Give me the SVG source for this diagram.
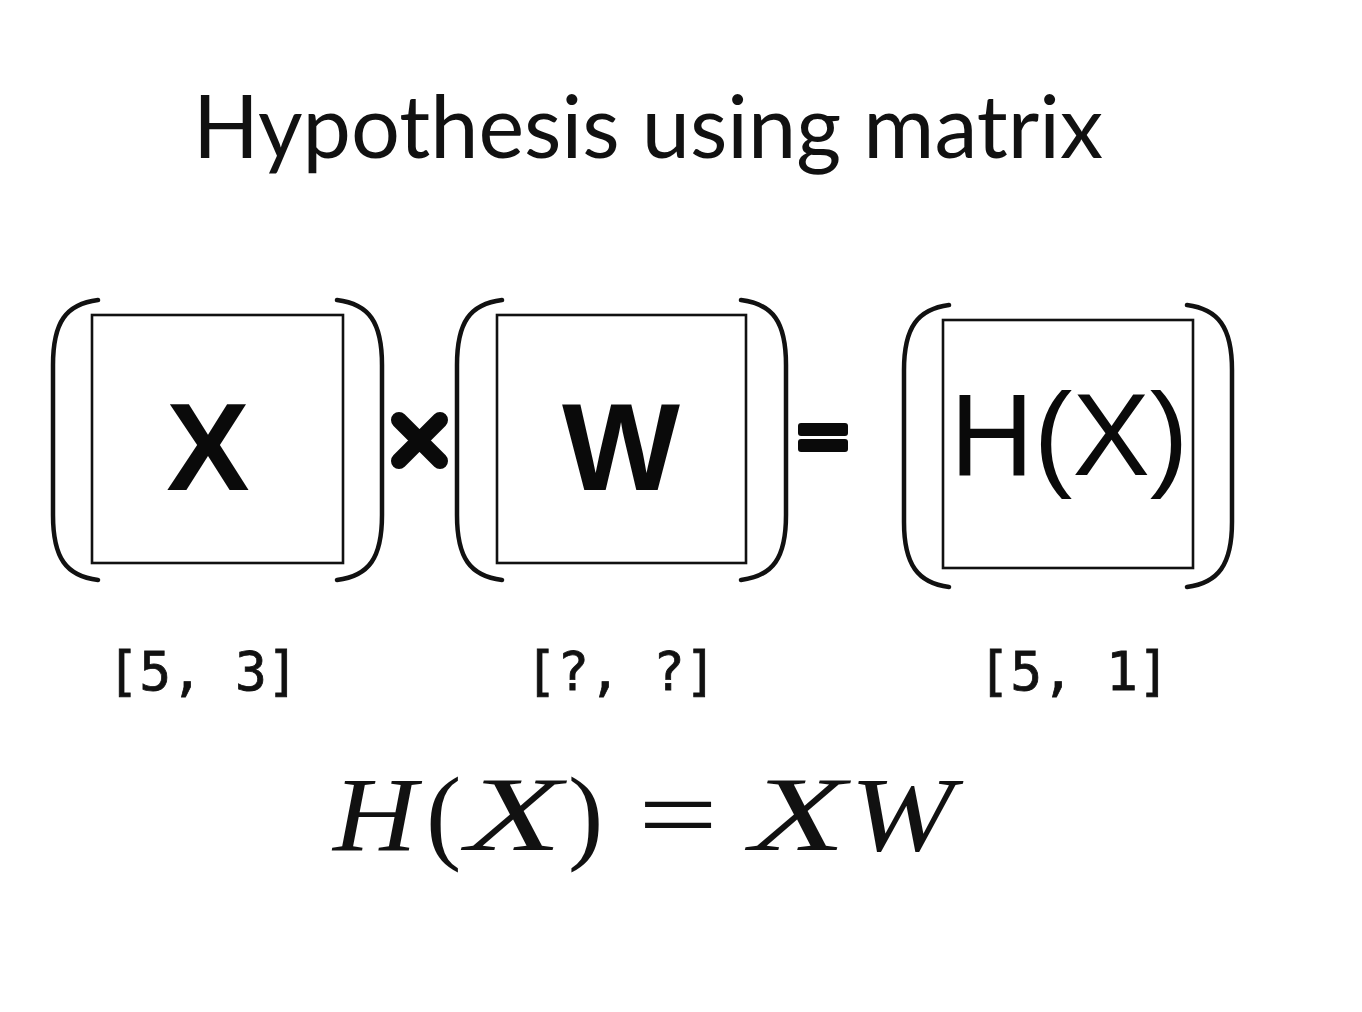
<svg xmlns="http://www.w3.org/2000/svg" width="1362" height="1012" viewBox="0 0 1362 1012">
<style>
.box{fill:none;stroke:#111;stroke-width:2.6}
.paren{fill:none;stroke:#111;stroke-width:4.5;stroke-linecap:round}
.big{font-family:"Liberation Sans",Arial,sans-serif;font-weight:bold;font-size:125px;fill:#0a0a0a;text-anchor:middle}
.dim{font-family:"DejaVu Sans Mono","Liberation Mono",monospace;font-size:53px;fill:#111;text-anchor:middle;stroke:#111;stroke-width:0.8}
.mi{font-family:"Liberation Serif","Times New Roman",serif;font-style:italic;font-size:106px;fill:#111}
.mu{font-family:"Liberation Serif","Times New Roman",serif;font-size:106px;fill:#111}
</style>
<rect width="1362" height="1012" fill="#fff"/>
<text x="193" y="158" font-family="Lato,'Open Sans',sans-serif" font-size="88" fill="#111" textLength="910" lengthAdjust="spacingAndGlyphs">Hypothesis using matrix</text>

<g id="matX">
<path class="paren" d="M98 300 C66 304 53 322 53 365 L53 515 C53 558 66 576 98 580"/>
<rect class="box" x="92" y="315" width="251" height="248"/>
<path class="paren" d="M337 300 C369 304 382 322 382 365 L382 515 C382 558 369 576 337 580"/>
<text class="big" x="208" y="490">X</text>
</g>

<g id="times">
<path d="M399 420 L440 461 M440 420 L399 461" stroke="#0a0a0a" stroke-width="16" stroke-linecap="round" fill="none"/>
</g>

<g id="matW">
<path class="paren" d="M502 300 C470 304 457 322 457 365 L457 515 C457 558 470 576 502 580"/>
<rect class="box" x="497" y="315" width="249" height="248"/>
<path class="paren" d="M741 300 C773 304 786 322 786 365 L786 515 C786 558 773 576 741 580"/>
<text class="big" x="621" y="490">W</text>
</g>

<g id="equals">
<rect x="798" y="423" width="50" height="13" rx="3" fill="#0a0a0a"/>
<rect x="798" y="439" width="50" height="13" rx="3" fill="#0a0a0a"/>
</g>

<g id="matH">
<path class="paren" d="M949 305 C918 309 904 327 904 370 L904 522 C904 565 918 583 949 587"/>
<rect class="box" x="943" y="320" width="250" height="248"/>
<path class="paren" d="M1187 305 C1218 309 1232 327 1232 370 L1232 522 C1232 565 1218 583 1187 587"/>
<text x="950" y="475" font-family="'Liberation Sans',Arial,sans-serif" font-size="116" fill="#0a0a0a">H(X)</text>
</g>

<g id="dims">
<text class="dim" x="203" y="690">[5, 3]</text>
<text class="dim" x="621" y="690">[?, ?]</text>
<text class="dim" x="1074" y="690">[5, 1]</text>
</g>

<g id="formula">
<text class="mi" x="333" y="850" textLength="84" lengthAdjust="spacingAndGlyphs">H</text>
<text class="mu" x="426" y="850">(</text>
<text class="mi" x="466" y="850" textLength="96" lengthAdjust="spacingAndGlyphs">X</text>
<text class="mu" x="568" y="850">)</text>
<text class="mu" x="638" y="850" textLength="80" lengthAdjust="spacingAndGlyphs">=</text>
<text class="mi" x="750" y="850" textLength="96" lengthAdjust="spacingAndGlyphs">X</text>
<text class="mi" x="850" y="850" textLength="104" lengthAdjust="spacingAndGlyphs">W</text>
</g>
<g id="connectors"/>
</svg>
